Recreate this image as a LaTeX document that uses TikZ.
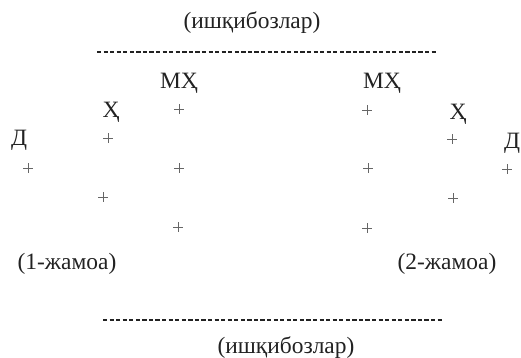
\documentclass[tikz,border=0pt]{standalone}
\usepackage{fontspec}
\setmainfont{Liberation Serif}
\definecolor{inkgray}{HTML}{222222}
\definecolor{crossgray}{HTML}{666666}
\begin{document}
\begin{tikzpicture}[x=0.03cm,y=-0.03cm,line cap=round,line join=round,
  font=\fontsize{20}{23}\selectfont,
  lbl/.style={anchor=base,inner sep=0pt,text=inkgray},
  player/.style={inner sep=0pt,minimum size=0.29cm,
    path picture={\draw[crossgray,line width=0.55pt]
      (path picture bounding box.north) -- (path picture bounding box.south)
      (path picture bounding box.west) -- (path picture bounding box.east);}},
  fans/.style={inkgray,line width=1pt,dash pattern=on 3.6pt off 2pt,line cap=butt}]
  \useasboundingbox (0,0) rectangle (521,358);
  % fans, top and bottom
  \node[lbl] (fanstop) at (252,28) {(ишқибозлар)};
  \coordinate (T1) at (97,52);
  \coordinate (T2) at (437,52);
  \draw[fans] (T1) -- (T2);
  \coordinate (B1) at (103,320);
  \coordinate (B2) at (442,320);
  \draw[fans] (B1) -- (B2);
  \node[lbl] (fansbot) at (286,353) {(ишқибозлар)};
  % team 1
  \node[lbl] (MH1) at (179,88) {МҲ};
  \node[lbl] (H1) at (111,117) {Ҳ};
  \node[lbl] (D1) at (19,145) {Д};
  \node[player] (m1a) at (179,109) {};
  \node[player] (m1b) at (179,168) {};
  \node[player] (m1c) at (178,227) {};
  \node[player] (h1a) at (108,138) {};
  \node[player] (h1b) at (103,197) {};
  \node[player] (d1) at (28,168) {};
  \node[lbl] (team1) at (67,269) {(1-жамоа)};
  % team 2
  \node[lbl] (MH2) at (382,88) {МҲ};
  \node[lbl] (H2) at (458,119) {Ҳ};
  \node[lbl] (D2) at (512,148) {Д};
  \node[player] (m2a) at (367,110) {};
  \node[player] (m2b) at (368,168) {};
  \node[player] (m2c) at (367,228) {};
  \node[player] (h2a) at (452,139) {};
  \node[player] (h2b) at (453,198) {};
  \node[player] (d2) at (507,169) {};
  \node[lbl] (team2) at (447,269) {(2-жамоа)};
\end{tikzpicture}
\end{document}
